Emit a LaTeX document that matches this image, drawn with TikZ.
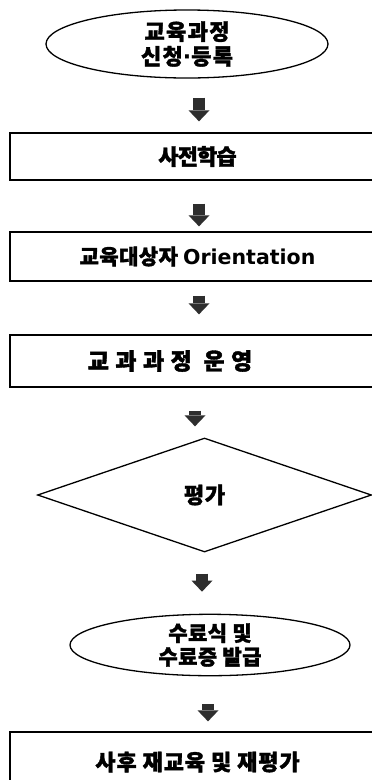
\documentclass[tikz,border=0pt]{standalone}
\usepackage{fontspec}
\setmainfont{Noto Sans CJK KR}[BoldFeatures={FakeBold=1.6}]
\newfontfamily\lat{DejaVu Sans}
\usetikzlibrary{shapes.geometric,arrows.meta}
\definecolor{arrowgray}{HTML}{2E2E2E}
\newcommand{\ksz}[2]{\fontsize{#1}{#1}\selectfont\addfontfeature{LetterSpace=#2}}
\tikzset{
  txt/.style={font=\bfseries},
  box/.style={draw,line width=1.3pt,rectangle,minimum width=375pt,inner sep=0pt,txt},
  oval/.style={draw,line width=1.3pt,ellipse,inner sep=0pt,align=center,txt},
  dia/.style={draw,line width=1.3pt,diamond,inner sep=0pt,txt},
  blk/.style={line width=12pt,draw=arrowgray,-{Triangle[length=11pt,width=21pt,line width=0pt]}}
}
\begin{document}
\begin{tikzpicture}[x=1pt,y=-1pt]
\clip (0,0) rectangle (372,780);
\fill[white] (0,0) rectangle (372,780);
% nodes
\node[oval,minimum width=282pt,minimum height=68pt] (e1) at (187,44)
  {\ksz{22}{6}교육과정\\[3pt]\ksz{22}{6}신청{\lat·}등록};
\node[box,minimum height=47pt] (r1) at (197.5,156.5)
  {\ksz{22}{-4}사전학습};
\node[box,minimum height=49pt] (r2) at (197.5,256.5)
  {\ksz{21}{2}교육대상자 {\lat\fontsize{20.5}{20.5}\selectfont Orientation}};
\node[box,minimum height=52pt] (r3) at (197.5,361)
  {\ksz{23}{28}교과과정 운영\rule{55pt}{0pt}};
\node[dia,minimum width=334pt,minimum height=114pt] (d) at (204.5,495)
  {\ksz{22}{3}평가};
\node[oval,minimum width=280pt,minimum height=50pt] (e2) at (210,645)
  {\ksz{21}{2}수료식 및\\[3pt]\ksz{21}{2}수료증 발급};
\node[box,minimum height=60pt] (r4) at (197.5,762)
  {\ksz{22}{4}사후 재교육 및 재평가};
% connectors
\coordinate (a1s) at ([shift={(12pt,-19pt)}]e1.south);
\path (a1s |- r1.north) coordinate (a1t);
\draw[blk] (a1s) -- ([yshift=11pt]a1t);
\coordinate (a2s) at ([shift={(1.5pt,-23pt)}]r1.south);
\path (a2s |- r2.north) coordinate (a2t);
\draw[blk] (a2s) -- ([yshift=5pt]a2t);
\coordinate (a3s) at ([shift={(1.5pt,-14pt)}]r2.south);
\path (a3s |- r3.north) coordinate (a3t);
\draw[blk] (a3s) -- ([yshift=20pt]a3t);
\coordinate (a4s) at ([shift={(-2.5pt,-23pt)}]r3.south);
\path (a4s |- d.north) coordinate (a4t);
\draw[blk] (a4s) -- ([yshift=11pt]a4t);
\coordinate (a5s) at ([shift={(-2.5pt,-21pt)}]d.south);
\path (a5s |- e2.north) coordinate (a5t);
\draw[blk] (a5s) -- ([yshift=22pt]a5t);
\coordinate (a6s) at ([shift={(-2pt,-28pt)}]e2.south);
\path (a6s |- r4.north) coordinate (a6t);
\draw[blk] (a6s) -- ([yshift=10pt]a6t);
\end{tikzpicture}
\end{document}
